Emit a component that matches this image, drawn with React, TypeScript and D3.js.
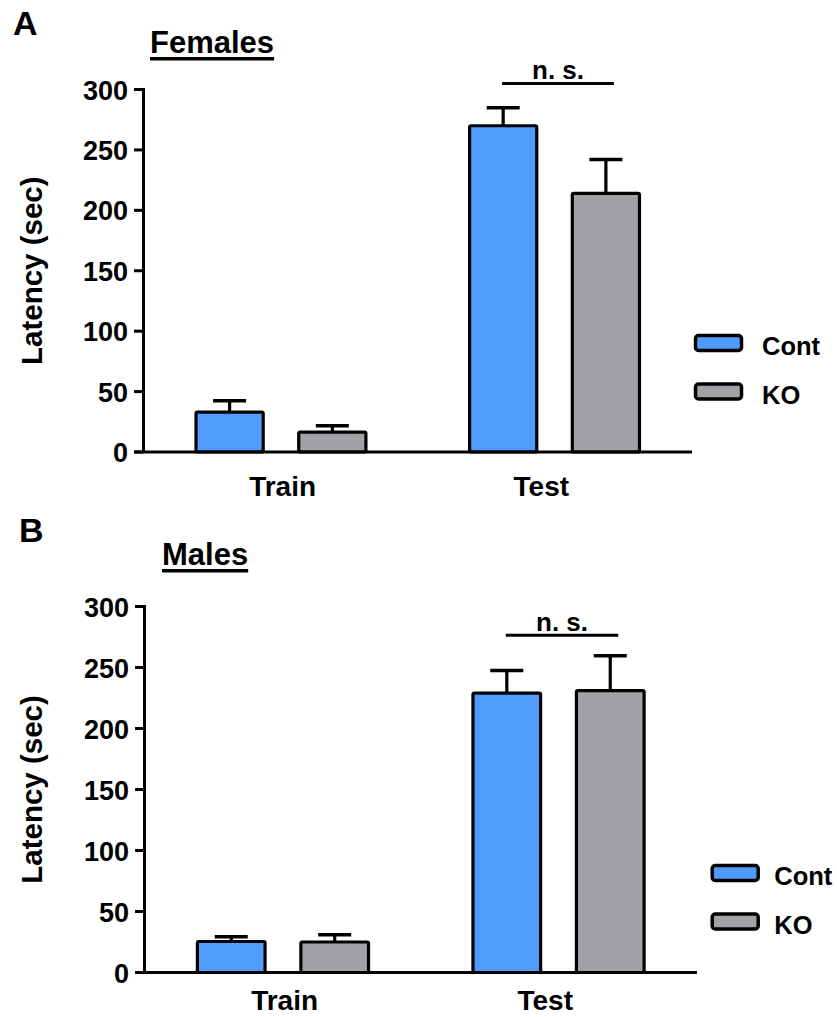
import React, { useEffect, useRef } from "react";
import * as d3 from "d3";

// ---- Data ----
const groups = ["Train", "Test"];
const seriesNames = ["Cont", "KO"];
const seriesColors = ["#509cfc", "#a2a1a6"];
const yTicks = [0, 50, 100, 150, 200, 250, 300];

const femalesCont = [33, 270];
const femalesContSem = [9.5, 15];
const femalesKO = [16.5, 214];
const femalesKOSem = [5.2, 28];
const femalesSigY = 305;

const malesCont = [25.4, 229];
const malesContSem = [4, 18.5];
const malesKO = [25, 231];
const malesKOSem = [6, 28.7];
const malesSigY = 276.5;

const sigLabel = "n. s.";
const yLabel = "Latency (sec)";

const FONT = "'Liberation Sans', Arial, Helvetica, sans-serif";

interface Panel {
  letter: string;
  title: string;
  cont: number[];
  contSem: number[];
  ko: number[];
  koSem: number[];
  sigY: number;
  x0: number;
  x1: number;
  y0: number;
  y1: number;
  letterX: number;
  letterY: number;
  titleX: number;
  titleY: number;
  legX: number;
  legY: number;
  legTextX: number;
  catDy: number;
}

const panels: Panel[] = [
  {
    letter: "A", title: "Females",
    cont: femalesCont, contSem: femalesContSem, ko: femalesKO, koSem: femalesKOSem, sigY: femalesSigY,
    x0: 143.5, x1: 692, y0: 452, y1: 89.5,
    letterX: 13, letterY: 35, titleX: 150, titleY: 53,
    legX: 695.5, legY: 335.5, legTextX: 762, catDy: 44,
  },
  {
    letter: "B", title: "Males",
    cont: malesCont, contSem: malesContSem, ko: malesKO, koSem: malesKOSem, sigY: malesSigY,
    x0: 144.5, x1: 697, y0: 972.5, y1: 606.5,
    letterX: 19, letterY: 542, titleX: 162, titleY: 565,
    legX: 712.2, legY: 865.5, legTextX: 774.3, catDy: 37.5,
  },
];

export default function App() {
  const ref = useRef<SVGSVGElement | null>(null);

  useEffect(() => {
    const svg = d3.select(ref.current);
    svg.selectAll("*").remove();

    panels.forEach((p) => {
      const g = svg.append("g");
      const y = d3.scaleLinear().domain([0, 300]).range([p.y0, p.y1]);
      const xg = d3.scaleBand<string>().domain(groups).range([p.x0, p.x1]).paddingInner(0.379).paddingOuter(0.192);
      const xs = d3.scaleBand<string>().domain(seriesNames).range([0, xg.bandwidth()]).paddingInner(0.346).paddingOuter(0);
      const xl = d3.scalePoint<string>().domain(groups).range([p.x0, p.x1]).padding(0.56).align(0.48);

      const vals = [p.cont, p.ko];
      const sems = [p.contSem, p.koSem];

      // letter
      g.append("text").attr("x", p.letterX).attr("y", p.letterY)
        .attr("font-family", FONT).attr("font-weight", "bold").attr("font-size", 34).text(p.letter);

      // title with underline
      const t = g.append("text").attr("x", p.titleX).attr("y", p.titleY)
        .attr("font-family", FONT).attr("font-weight", "bold").attr("font-size", 31).text(p.title);
      const tw = (t.node() as SVGTextElement).getComputedTextLength();
      g.append("rect").attr("x", p.titleX).attr("y", p.titleY + 4).attr("width", tw).attr("height", 3.5).attr("fill", "#000");

      // y label
      g.append("text")
        .attr("transform", `translate(42,${(p.y0 + p.y1) / 2}) rotate(-90)`)
        .attr("text-anchor", "middle")
        .attr("font-family", FONT).attr("font-weight", "bold").attr("font-size", 29.5).text(yLabel);

      // error bars
      seriesNames.forEach((s, si) => {
        groups.forEach((gr, gi) => {
          const cx = (xg(gr) as number) + (xs(s) as number) + xs.bandwidth() / 2;
          const v = vals[si][gi];
          const e = v + sems[si][gi];
          g.append("line").attr("x1", cx).attr("x2", cx).attr("y1", y(v)).attr("y2", y(e))
            .attr("stroke", "#000").attr("stroke-width", 3.2);
          g.append("line").attr("x1", cx - 16.5).attr("x2", cx + 16.5).attr("y1", y(e)).attr("y2", y(e))
            .attr("stroke", "#000").attr("stroke-width", 3.5);
        });
      });

      // bars
      seriesNames.forEach((s, si) => {
        groups.forEach((gr, gi) => {
          const bx = (xg(gr) as number) + (xs(s) as number);
          const v = vals[si][gi];
          g.append("rect").attr("x", bx).attr("y", y(v)).attr("width", xs.bandwidth()).attr("height", y(0) - y(v))
            .attr("rx", 1.5).attr("fill", seriesColors[si]).attr("stroke", "#000").attr("stroke-width", 3.2);
        });
      });

      // y axis
      g.append("path").attr("d", `M${p.x0 - 9.5},${y(300)} H${p.x0} V${y(0)}`)
        .attr("fill", "none").attr("stroke", "#000").attr("stroke-width", 3).attr("stroke-linejoin", "miter");
      yTicks.forEach((tv) => {
        if (tv !== 300) {
          g.append("line").attr("x1", p.x0 - 9.5).attr("x2", p.x0).attr("y1", y(tv)).attr("y2", y(tv))
            .attr("stroke", "#000").attr("stroke-width", 3);
        }
        g.append("text").attr("x", p.x0 - 15.5).attr("y", y(tv) + 10).attr("text-anchor", "end")
          .attr("font-family", FONT).attr("font-weight", "bold").attr("font-size", 27).text(String(tv));
      });

      // x axis baseline
      g.append("line").attr("x1", p.x0 - 9.5).attr("x2", p.x1).attr("y1", y(0)).attr("y2", y(0))
        .attr("stroke", "#000").attr("stroke-width", 3);

      // category labels
      groups.forEach((gr) => {
        g.append("text").attr("x", xl(gr) as number).attr("y", y(0) + p.catDy)
          .attr("text-anchor", "middle")
          .attr("font-family", FONT).attr("font-weight", "bold").attr("font-size", 28).text(gr);
      });

      // significance bracket
      const cA = (xg("Test") as number) + (xs("Cont") as number) + xs.bandwidth() / 2;
      const cB = (xg("Test") as number) + (xs("KO") as number) + xs.bandwidth() / 2;
      const la = cA - 1, lb = cB + 8;
      g.append("line").attr("x1", la).attr("x2", lb).attr("y1", y(p.sigY)).attr("y2", y(p.sigY))
        .attr("stroke", "#000").attr("stroke-width", 3);
      g.append("text").attr("x", (la + lb) / 2).attr("y", y(p.sigY) - 4.5).attr("text-anchor", "middle")
        .attr("font-family", FONT).attr("font-weight", "bold").attr("font-size", 26).text(sigLabel);

      // legend
      seriesNames.forEach((s, si) => {
        const ly = p.legY + si * 48.5;
        g.append("rect").attr("x", p.legX).attr("y", ly).attr("width", 46).attr("height", 15).attr("rx", 3)
          .attr("fill", seriesColors[si]).attr("stroke", "#000").attr("stroke-width", 3.5);
        g.append("text").attr("x", p.legTextX).attr("y", ly + 19.5)
          .attr("font-family", FONT).attr("font-weight", "bold").attr("font-size", 25.5).text(s);
      });
    });
  }, []);

  return (
    <svg ref={ref} width={837} height={1017} style={{ position: "absolute", left: 0, top: 0, background: "#fff" }} />
  );
}
